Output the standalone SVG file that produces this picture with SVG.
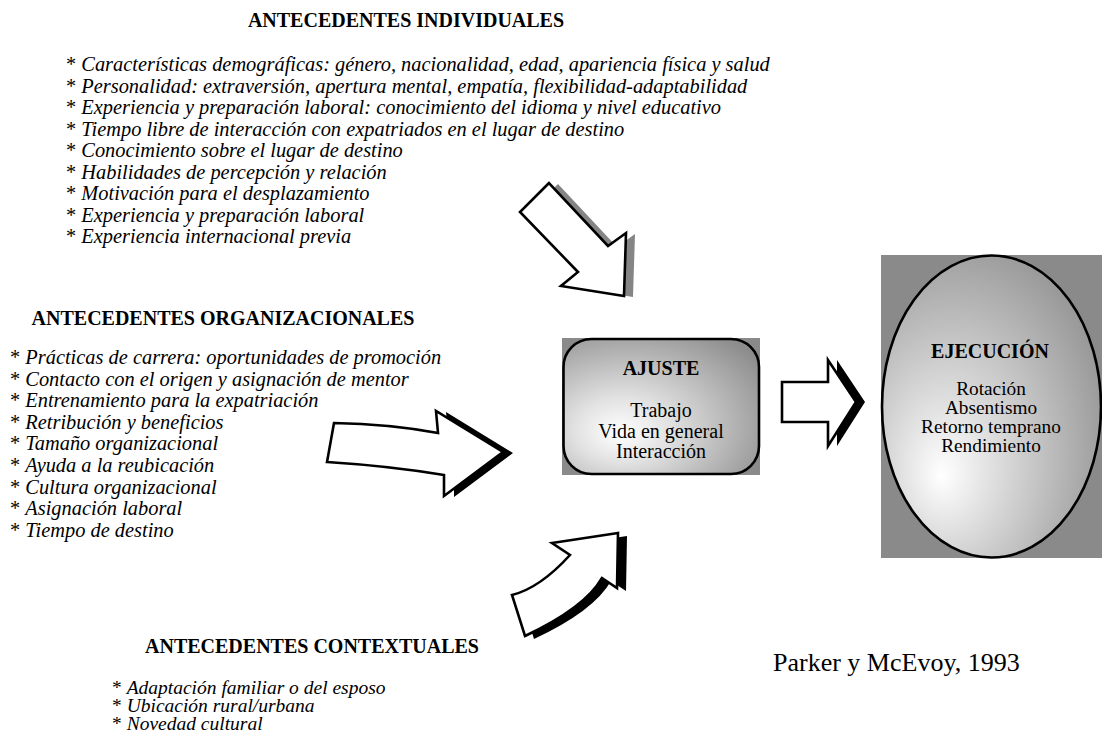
<svg xmlns="http://www.w3.org/2000/svg" width="1102" height="737" viewBox="0 0 1102 737">
<style>
text{font-family:"Liberation Serif","Times New Roman",serif;font-size:20px;fill:#000}
.t{font-weight:bold;text-anchor:middle}
.i{font-style:italic;font-size:20.4px}
.ic{font-style:italic;font-size:19.5px}
.n{font-style:normal}
.c{text-anchor:middle}
.e{text-anchor:middle;font-size:19.3px}
.arr{fill:#fff;stroke:#000;stroke-width:2.6;stroke-linejoin:miter}
.sh{fill:#000}
.shg{fill:#858585}
.bg{fill:#8a8a8a}
</style>
<defs>
<radialGradient id="gA" cx="0.35" cy="0.62" r="0.8" fx="0.28" fy="0.7">
<stop offset="0" stop-color="#ffffff"/>
<stop offset="0.3" stop-color="#e2e2e2"/>
<stop offset="1" stop-color="#8c8c8c"/>
</radialGradient>
<radialGradient id="gE" cx="0.35" cy="0.62" r="0.8" fx="0.27" fy="0.73">
<stop offset="0" stop-color="#ffffff"/>
<stop offset="0.28" stop-color="#dedede"/>
<stop offset="1" stop-color="#8a8a8a"/>
</radialGradient>
</defs>

<g id="individuales">
<text class="t" x="406" y="27">ANTECEDENTES INDIVIDUALES</text>
<text class="i" x="66" y="71"><tspan class="n">* </tspan>Características demográficas: género, nacionalidad, edad, apariencia física y salud</text>
<text class="i" x="66" y="92.5"><tspan class="n">* </tspan>Personalidad: extraversión, apertura mental, empatía, flexibilidad-adaptabilidad</text>
<text class="i" x="66" y="114"><tspan class="n">* </tspan>Experiencia y preparación laboral: conocimiento del idioma y nivel educativo</text>
<text class="i" x="66" y="135.5"><tspan class="n">* </tspan>Tiempo libre de interacción con expatriados en el lugar de destino</text>
<text class="i" x="66" y="157"><tspan class="n">* </tspan>Conocimiento sobre el lugar de destino</text>
<text class="i" x="66" y="178.5"><tspan class="n">* </tspan>Habilidades de percepción y relación</text>
<text class="i" x="66" y="200"><tspan class="n">* </tspan>Motivación para el desplazamiento</text>
<text class="i" x="66" y="221.5"><tspan class="n">* </tspan>Experiencia y preparación laboral</text>
<text class="i" x="66" y="243"><tspan class="n">* </tspan>Experiencia internacional previa</text>
</g>

<g id="organizacionales">
<text class="t" x="223" y="325">ANTECEDENTES ORGANIZACIONALES</text>
<text class="i" x="10" y="364"><tspan class="n">* </tspan>Prácticas de carrera: oportunidades de promoción</text>
<text class="i" x="10" y="385.6"><tspan class="n">* </tspan>Contacto con el origen y asignación de mentor</text>
<text class="i" x="10" y="407.2"><tspan class="n">* </tspan>Entrenamiento para la expatriación</text>
<text class="i" x="10" y="428.8"><tspan class="n">* </tspan>Retribución y beneficios</text>
<text class="i" x="10" y="450.4"><tspan class="n">* </tspan>Tamaño organizacional</text>
<text class="i" x="10" y="472"><tspan class="n">* </tspan>Ayuda a la reubicación</text>
<text class="i" x="10" y="493.6"><tspan class="n">* </tspan>Cultura organizacional</text>
<text class="i" x="10" y="515.2"><tspan class="n">* </tspan>Asignación laboral</text>
<text class="i" x="10" y="536.8"><tspan class="n">* </tspan>Tiempo de destino</text>
</g>

<g id="contextuales">
<text class="t" x="312" y="653">ANTECEDENTES CONTEXTUALES</text>
<text class="ic" x="112" y="694"><tspan class="n">* </tspan>Adaptación familiar o del esposo</text>
<text class="ic" x="112" y="712"><tspan class="n">* </tspan>Ubicación rural/urbana</text>
<text class="ic" x="112" y="730"><tspan class="n">* </tspan>Novedad cultural</text>
</g>

<g id="ajuste">
<rect class="bg" x="562" y="338" width="198" height="137" fill="url(#gA)"/>
<rect x="563.5" y="339" width="195.5" height="135" rx="28" ry="28" fill="url(#gA)" stroke="#000" stroke-width="2.6"/>
<text class="t" x="661" y="375">AJUSTE</text>
<text class="c" x="661" y="417">Trabajo</text>
<text class="c" x="661" y="437.5">Vida en general</text>
<text class="c" x="661" y="458">Interacción</text>
</g>

<g id="ejecucion">
<rect class="bg" x="881" y="255" width="221" height="303" fill="url(#gE)"/>
<ellipse cx="991.5" cy="406.5" rx="109.5" ry="151" fill="url(#gE)" stroke="#000" stroke-width="2.6"/>
<text class="t" x="990" y="358">EJECUCIÓN</text>
<text class="e" x="991" y="394.5">Rotación</text>
<text class="e" x="991" y="413.8">Absentismo</text>
<text class="e" x="991" y="433.1">Retorno temprano</text>
<text class="e" x="991" y="452.4">Rendimiento</text>
</g>

<g id="fuente">
<text x="773" y="671" style="font-size:26px">Parker y McEvoy, 1993</text>
</g>

<g id="connectors">
<g id="arrow-individuales">
<path class="shg" transform="translate(9,1)" d="M549,183 L520,212 L578,272 L561,286 L624,296 L626,233 L608,246 Z"/>
<path class="arr" d="M549,183 L520,212 L578,272 L561,286 L624,296 L626,233 L608,246 Z"/>
</g>
<g id="arrow-organizacionales">
<path class="sh" transform="translate(10,1)" d="M334,423 Q390,424 438,433 L436,411 L503,452 L444,496 L444,475 Q390,466 327,462 Z"/>
<path class="arr" d="M334,423 Q390,424 438,433 L436,411 L503,452 L444,496 L444,475 Q390,466 327,462 Z"/>
</g>
<g id="arrow-contextuales">
<path class="sh" transform="translate(9,3)" d="M618,533 L552,543 L570,555 Q540,588 512,595 L525,636 Q585,608 602,578 L617,588 Z"/>
<path class="arr" d="M618,533 L552,543 L570,555 Q540,588 512,595 L525,636 Q585,608 602,578 L617,588 Z"/>
</g>
<g id="arrow-ajuste-ejecucion">
<path class="sh" transform="translate(9,0)" d="M782,382 L828,382 L828,360 L856,402 L828,446 L828,422 L782,422 Z"/>
<path class="arr" d="M782,382 L828,382 L828,360 L856,402 L828,446 L828,422 L782,422 Z"/>
</g>
</g>
</svg>
